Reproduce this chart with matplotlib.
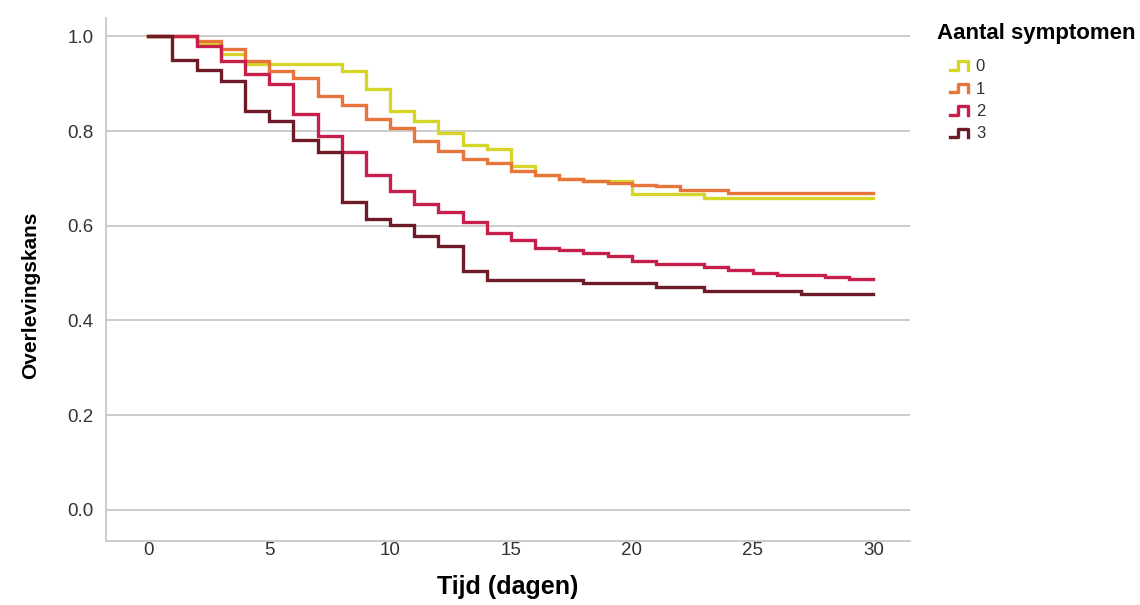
import matplotlib
matplotlib.use("Agg")
import matplotlib.pyplot as plt
from matplotlib.lines import Line2D
from matplotlib.legend_handler import HandlerBase

# Kaplan-Meier estimates per aantal symptomen (dag, overlevingskans na stap)
dagen0 = [0, 2, 3, 4, 8, 9, 10, 11, 12, 13, 14, 15, 16, 17, 18, 20, 23, 30]
kans0 = [1.0, 0.985, 0.962, 0.942, 0.927, 0.888, 0.842, 0.821, 0.796, 0.770, 0.762,
         0.726, 0.708, 0.698, 0.694, 0.668, 0.659, 0.659]

dagen1 = [0, 2, 3, 4, 5, 6, 7, 8, 9, 10, 11, 12, 13, 14, 15, 16, 17, 18, 19, 20,
          21, 22, 24, 30]
kans1 = [1.0, 0.99, 0.973, 0.948, 0.927, 0.913, 0.874, 0.856, 0.825, 0.807, 0.779,
         0.758, 0.742, 0.733, 0.715, 0.708, 0.698, 0.694, 0.690, 0.687, 0.684,
         0.676, 0.669, 0.669]

dagen2 = [0, 2, 3, 4, 5, 6, 7, 8, 9, 10, 11, 12, 13, 14, 15, 16, 17, 18, 19, 20,
          21, 23, 24, 25, 26, 28, 29, 30]
kans2 = [1.0, 0.98, 0.949, 0.920, 0.899, 0.836, 0.789, 0.755, 0.708, 0.673, 0.646,
         0.628, 0.607, 0.585, 0.569, 0.553, 0.548, 0.543, 0.536, 0.525, 0.520,
         0.513, 0.506, 0.500, 0.496, 0.492, 0.488, 0.488]

dagen3 = [0, 1, 2, 3, 4, 5, 6, 7, 8, 9, 10, 11, 12, 13, 14, 18, 21, 23, 27, 30]
kans3 = [1.0, 0.95, 0.929, 0.906, 0.842, 0.821, 0.782, 0.755, 0.650, 0.615, 0.602,
         0.579, 0.557, 0.504, 0.486, 0.479, 0.471, 0.463, 0.455, 0.455]

groepen = ['0', '1', '2', '3']
kleuren = ['#d6d62a', '#e8763c', '#c61f4b', '#6c1b27']
reeksen = [(dagen0, kans0), (dagen1, kans1), (dagen2, kans2), (dagen3, kans3)]

x_ticks = [0, 5, 10, 15, 20, 25, 30]
y_ticks = [0.0, 0.2, 0.4, 0.6, 0.8, 1.0]

plt.rcParams['font.family'] = ['Liberation Sans', 'DejaVu Sans']


class StepHandler(HandlerBase):
    # legend icon shaped like a small survival step
    def create_artists(self, legend, orig_handle, xdescent, ydescent,
                       width, height, fontsize, trans):
        x0 = -xdescent
        y0 = -ydescent
        xs = [x0, x0 + 0.45 * width, x0 + 0.45 * width, x0 + width, x0 + width]
        ys = [y0 + 0.1 * height, y0 + 0.1 * height, y0 + 0.85 * height,
              y0 + 0.85 * height, y0 + 0.1 * height]
        ln = Line2D(xs, ys, color=orig_handle.get_color(),
                    linewidth=orig_handle.get_linewidth(), transform=trans)
        return [ln]


fig = plt.figure(figsize=(11.4, 6.05), dpi=100)
ax = fig.add_axes([0.093, 0.106, 0.705, 0.865])

handles = []
for (d, k), kleur in zip(reeksen, kleuren):
    h, = ax.step(d, k, where='post', color=kleur, linewidth=2.4,
                 solid_joinstyle='miter', zorder=3)
    handles.append(h)

ax.set_xlim(-1.75, 31.5)
ax.set_ylim(-0.066, 1.04)
ax.set_xticks(x_ticks)
ax.set_yticks(y_ticks)
ax.set_yticklabels([f'{v:.1f}' for v in y_ticks])
ax.yaxis.grid(True, color='#c8c8c8', linewidth=1.3)
ax.set_axisbelow(True)
ax.tick_params(length=0, labelsize=13.5, colors='#333333')
ax.tick_params(axis='x', pad=1)
ax.tick_params(axis='y', pad=9)
for s in ['top', 'right']:
    ax.spines[s].set_visible(False)
for s in ['left', 'bottom']:
    ax.spines[s].set_color('#c8c8c8')
    ax.spines[s].set_linewidth(1.3)

ax.set_xlabel('Tijd (dagen)', fontsize=18, fontweight='bold', labelpad=11)
ax.set_ylabel('Overlevingskans', fontsize=15, fontweight='bold')
ax.yaxis.set_label_coords(-0.082, 0.47)

fig.text(937 / 1140, 1 - 33 / 605, 'Aantal symptomen', fontsize=16,
         fontweight='bold', ha='left', va='center')
leg = fig.legend(handles, groepen, loc='upper left',
                 bbox_to_anchor=(950 / 1140, 1 - 59 / 605), frameon=False,
                 fontsize=12, handler_map={Line2D: StepHandler()},
                 handlelength=1.1, handletextpad=0.45, labelspacing=0.45,
                 borderaxespad=0, borderpad=0)
for t in leg.get_texts():
    t.set_color('#333333')

fig.savefig('out.png', dpi=100)
